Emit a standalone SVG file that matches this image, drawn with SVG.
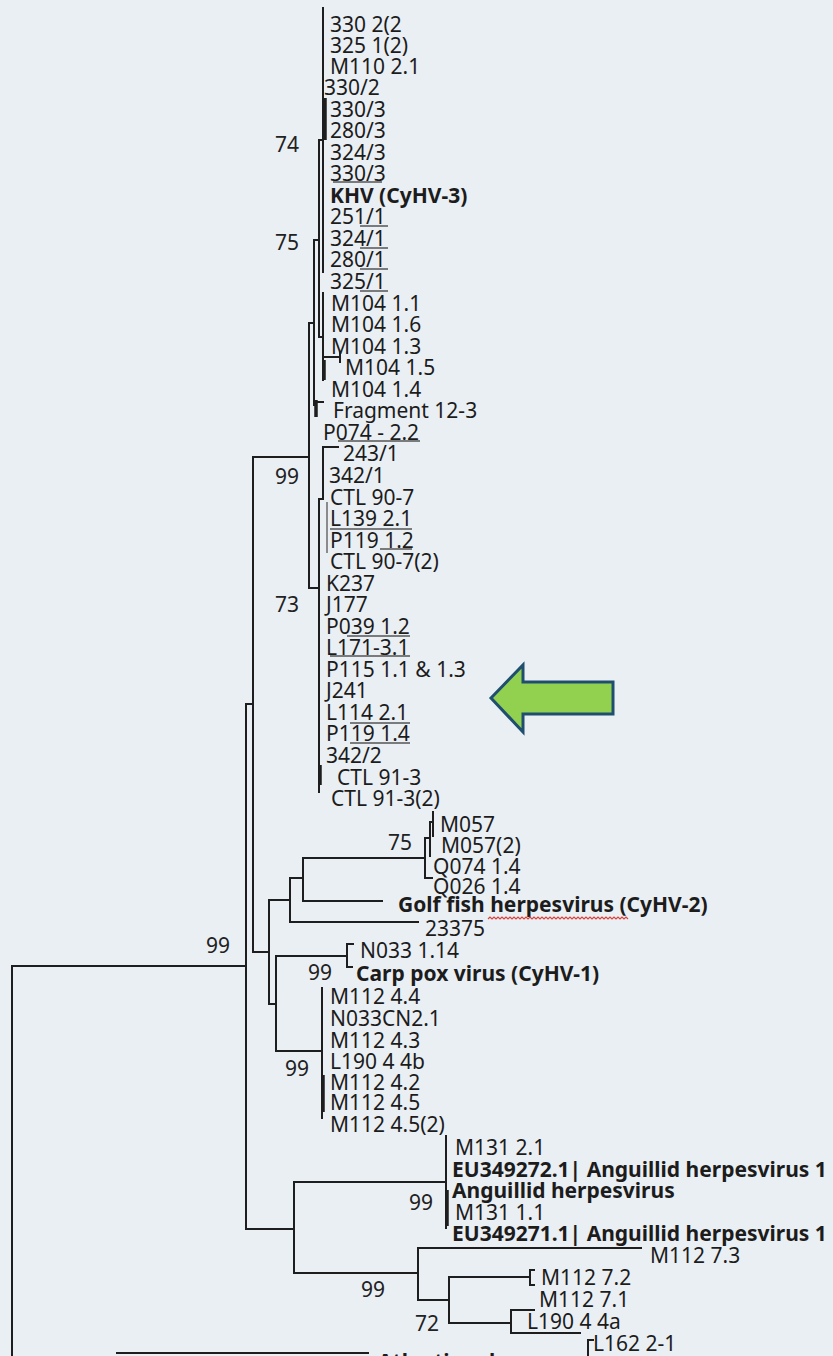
<svg xmlns="http://www.w3.org/2000/svg" width="833" height="1356" viewBox="0 0 833 1356">
<style>
.t{font-family:"Noto Sans","Open Sans",sans-serif;font-size:21px;fill:#1c1c1c}
.b{font-weight:bold}
.bs{font-family:"Noto Sans","Open Sans",sans-serif;font-size:21px;fill:#222}
.br{stroke:#1e1e1e;stroke-width:2;fill:none;stroke-linecap:square}
.th{stroke:#1e1e1e;stroke-width:3.5;fill:none}
.tn{stroke:#555;stroke-width:1.3;fill:none}
</style>
<rect width="833" height="1356" fill="#eaeff4"/>
<g id="connectors">
<!-- root -->
<path class="br" d="M12 1356 V966 H246 M246 704 V1229 M246 704 H253 M253 457 V952"/>
<path class="br" d="M117 1353 H368"/>
<!-- CyHV-3 clade -->
<path class="br" d="M253 457 H309 M309 323 V588 M309 323 H314 M314 240 V405 M314 240 H319 M319 140 V337 M319 140 H323 M323 8 V272 M319 337 H323 M323 293 V380 M325 357 H340 M340 352 V362 M314 405 H316 M316 402 H323"/>
<path class="th" d="M325 98 V140 M324 360 V380 M316 400 V417"/>
<path class="br" d="M309 588 H319 M323 447 V499 M323 447 H338 M319 499 H323 M319 499 V792"/>
<path class="tn" d="M327 502 V553"/>
<path class="th" d="M320 765 V785"/>
<!-- CyHV-2 group -->
<path class="br" d="M253 952 H269 M269 900 V1004 M269 900 H290 M290 878 V922 M290 878 H303 M303 858 V901 M303 858 H425 M303 901 H382 M290 922 H418 M425 838 V878 M425 838 H430 M430 822 V856 M425 878 H432 M433 812 V836 M430 822 H433"/>
<!-- CyHV-1 group -->
<path class="br" d="M269 1004 H276 M276 956 V1051 M276 956 H347 M347 944 V967 M347 944 H353 M347 967 H352 M276 1051 H322 M322 988 V1118"/>
<path class="th" d="M323 1075 V1112"/>
<!-- Anguillid group -->
<path class="br" d="M246 1229 H294 M294 1182 V1273 M294 1182 H446 M446 1136 V1228 M294 1273 H418 M418 1248 V1300 M418 1248 H641 M418 1300 H449 M449 1277 V1323 M449 1277 H530 M530 1270 V1285 M530 1270 H534 M530 1285 H534 M449 1323 H511 M511 1310 V1333 M511 1310 H534 M511 1333 H580 M588 1340 V1356 M588 1340 H593"/>
<path class="th" d="M447 1190 V1226"/>
<!-- tip underlines -->
<path class="tn" d="M333 182 H382 M360 226 H388 M360 248 H388 M360 269 H388 M360 291 H388 M338 441 H420 M330 529 H412 M380 549 H412 M347 636 H410 M330 656 H410 M350 723 H410 M350 743 H410"/>
</g>
<g id="labels">
<g id="n1"><text class="t" x="330" y="32">330 2(2</text></g>
<g id="n2"><text class="t" x="330" y="53">325 1(2)</text></g>
<g id="n3"><text class="t" x="330" y="74">M110 2.1</text></g>
<g id="n4"><text class="t" x="324" y="95">330/2</text></g>
<g id="n5"><text class="t" x="330" y="117">330/3</text></g>
<g id="n6"><text class="t" x="330" y="138">280/3</text></g>
<g id="n7"><text class="t" x="330" y="160">324/3</text></g>
<g id="n8"><text class="t" x="330" y="181">330/3</text></g>
<g id="n9"><text class="t b" x="330" y="203">KHV (CyHV-3)</text></g>
<g id="n10"><text class="t" x="330" y="224">251/1</text></g>
<g id="n11"><text class="t" x="330" y="246">324/1</text></g>
<g id="n12"><text class="t" x="330" y="267">280/1</text></g>
<g id="n13"><text class="t" x="330" y="289">325/1</text></g>
<g id="n14"><text class="t" x="331" y="311">M104 1.1</text></g>
<g id="n15"><text class="t" x="331" y="332">M104 1.6</text></g>
<g id="n16"><text class="t" x="331" y="354">M104 1.3</text></g>
<g id="n17"><text class="t" x="345" y="375">M104 1.5</text></g>
<g id="n18"><text class="t" x="331" y="397">M104 1.4</text></g>
<g id="n19"><text class="t" x="333" y="418">Fragment 12-3</text></g>
<g id="n20"><text class="t" x="323" y="440">P074 - 2.2</text></g>
<g id="n21"><text class="t" x="343" y="461">243/1</text></g>
<g id="n22"><text class="t" x="329" y="483">342/1</text></g>
<g id="n23"><text class="t" x="330" y="505">CTL 90-7</text></g>
<g id="n24"><text class="t" x="330" y="526">L139 2.1</text></g>
<g id="n25"><text class="t" x="330" y="548">P119 1.2</text></g>
<g id="n26"><text class="t" x="330" y="569">CTL 90-7(2)</text></g>
<g id="n27"><text class="t" x="326" y="591">K237</text></g>
<g id="n28"><text class="t" x="326" y="612">J177</text></g>
<g id="n29"><text class="t" x="326" y="634">P039 1.2</text></g>
<g id="n30"><text class="t" x="326" y="655">L171-3.1</text></g>
<g id="n31"><text class="t" x="326" y="677">P115 1.1 &amp; 1.3</text></g>
<g id="n32"><text class="t" x="326" y="698">J241</text></g>
<g id="n33"><text class="t" x="326" y="720">L114 2.1</text></g>
<g id="n34"><text class="t" x="326" y="741">P119 1.4</text></g>
<g id="n35"><text class="t" x="326" y="763">342/2</text></g>
<g id="n36"><text class="t" x="337" y="785">CTL 91-3</text></g>
<g id="n37"><text class="t" x="331" y="806">CTL 91-3(2)</text></g>
<g id="n38"><text class="t" x="440" y="832">M057</text></g>
<g id="n39"><text class="t" x="441" y="853">M057(2)</text></g>
<g id="n40"><text class="t" x="433" y="874">Q074 1.4</text></g>
<g id="n41"><text class="t" x="433" y="894">Q026 1.4</text></g>
<g id="n42"><text class="t b" x="398" y="912">Golf fish herpesvirus (CyHV-2)</text>
<path d="M488 919 l2 -2 l2 2 l2 -2 l2 2 l2 -2 l2 2 l2 -2 l2 2 l2 -2 l2 2 l2 -2 l2 2 l2 -2 l2 2 l2 -2 l2 2 l2 -2 l2 2 l2 -2 l2 2 l2 -2 l2 2 l2 -2 l2 2 l2 -2 l2 2 l2 -2 l2 2 l2 -2 l2 2 l2 -2 l2 2 l2 -2 l2 2 l2 -2 l2 2 l2 -2 l2 2 l2 -2 l2 2 l2 -2 l2 2 l2 -2 l2 2 l2 -2 l2 2 l2 -2 l2 2 l2 -2 l2 2 l2 -2 l2 2 l2 -2 l2 2 l2 -2 l2 2 l2 -2 l2 2 l2 -2 l2 2 l2 -2 l2 2 l2 -2 l2 2 l2 -2 l2 2 l2 -2 l2 2 l2 -2 l2 2" stroke="#e0403a" stroke-width="1.2" fill="none"/></g>
<g id="n43"><text class="t" x="425" y="936">23375</text></g>
<g id="n44"><text class="t" x="360" y="958">N033 1.14</text></g>
<g id="n45"><text class="t b" x="356" y="981">Carp pox virus (CyHV-1)</text></g>
<g id="n46"><text class="t" x="330" y="1004">M112 4.4</text></g>
<g id="n47"><text class="t" x="330" y="1026">N033CN2.1</text></g>
<g id="n48"><text class="t" x="330" y="1048">M112 4.3</text></g>
<g id="n49"><text class="t" x="330" y="1069">L190 4 4b</text></g>
<g id="n50"><text class="t" x="330" y="1090">M112 4.2</text></g>
<g id="n51"><text class="t" x="330" y="1110">M112 4.5</text></g>
<g id="n52"><text class="t" x="330" y="1132">M112 4.5(2)</text></g>
<g id="n53"><text class="t" x="455" y="1155">M131 2.1</text></g>
<g id="n54"><text class="t b" x="452" y="1177">EU349272.1| Anguillid herpesvirus 1</text></g>
<g id="n55"><text class="t b" x="452" y="1198">Anguillid herpesvirus</text></g>
<g id="n56"><text class="t" x="455" y="1220">M131 1.1</text></g>
<g id="n57"><text class="t b" x="452" y="1241">EU349271.1| Anguillid herpesvirus 1</text></g>
<g id="n58"><text class="t" x="650" y="1263">M112 7.3</text></g>
<g id="n59"><text class="t" x="541" y="1285">M112 7.2</text></g>
<g id="n60"><text class="t" x="539" y="1307">M112 7.1</text></g>
<g id="n61"><text class="t" x="527" y="1329">L190 4 4a</text></g>
<g id="n62"><text class="t" x="593" y="1351">L162 2-1</text></g>
<g id="n63"><text class="t b" x="378" y="1369">Atlantic salmon</text></g>
</g>
<g id="bootstrap">
<text class="bs" x="275" y="152">74</text>
<text class="bs" x="275" y="250">75</text>
<text class="bs" x="275" y="484">99</text>
<text class="bs" x="275" y="612">73</text>
<text class="bs" x="388" y="850">75</text>
<text class="bs" x="206" y="953">99</text>
<text class="bs" x="308" y="980">99</text>
<text class="bs" x="285" y="1076">99</text>
<text class="bs" x="409" y="1210">99</text>
<text class="bs" x="361" y="1297">99</text>
<text class="bs" x="415" y="1331">72</text>
</g>
<g id="arrow">
<polygon points="491,698 523,665 523,682 613,682 613,714 523,714 523,732" fill="#92d050" stroke="#1f4e6e" stroke-width="3" stroke-linejoin="miter"/>
</g>
</svg>
